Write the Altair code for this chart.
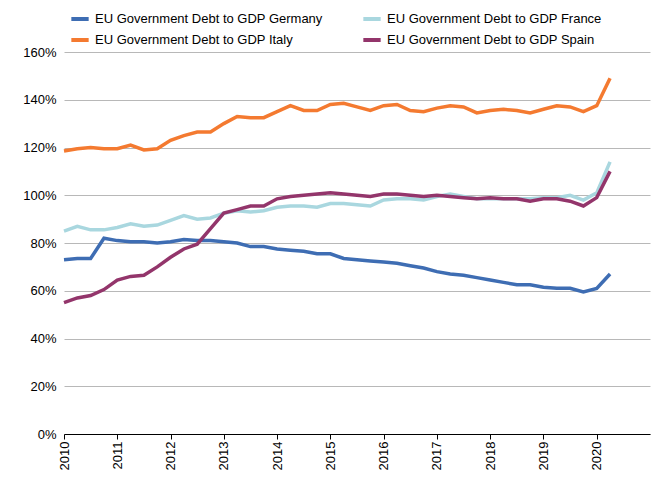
import altair as alt
import pandas as pd

SERIES = [
    "EU Government Debt to GDP Germany",
    "EU Government Debt to GDP Italy",
    "EU Government Debt to GDP France",
    "EU Government Debt to GDP Spain",
]
COLORS = ["#3e6db3", "#f47a30", "#a9d7df", "#93356b"]

germany = [73, 73.5, 73.5, 82, 81, 80.5, 80.5, 80, 80.5, 81.5, 81, 81,
           80.5, 80, 78.5, 78.5, 77.5, 77, 76.5, 75.5, 75.5, 73.5, 73, 72.5,
           72, 71.5, 70.5, 69.5, 68, 67, 66.5, 65.5, 64.5, 63.5, 62.5, 62.5,
           61.5, 61, 61, 59.5, 61, 67]
france = [85, 87, 85.5, 85.5, 86.5, 88, 87, 87.5, 89.5, 91.5, 90, 90.5,
          92.5, 93.5, 93, 93.5, 95, 95.5, 95.5, 95, 96.5, 96.5, 96, 95.5,
          98, 98.5, 98.5, 98, 99.5, 100.5, 99.5, 98.5, 98.5, 98.5, 98.5, 98.5,
          99, 99, 100, 98, 101, 114]
italy = [118.5, 119.5, 120, 119.5, 119.5, 121, 119, 119.5, 123, 125, 126.5, 126.5,
         130, 133, 132.5, 132.5, 135, 137.5, 135.5, 135.5, 138, 138.5, 137, 135.5,
         137.5, 138, 135.5, 135, 136.5, 137.5, 137, 134.5, 135.5, 136, 135.5, 134.5,
         136, 137.5, 137, 135, 137.5, 149]
spain = [55, 57, 58, 60.5, 64.5, 66, 66.5, 70, 74, 77.5, 79.5, 86,
         92.5, 94, 95.5, 95.5, 98.5, 99.5, 100, 100.5, 101, 100.5, 100, 99.5,
         100.5, 100.5, 100, 99.5, 100, 99.5, 99, 98.5, 99, 98.5, 98.5, 97.5,
         98.5, 98.5, 97.5, 95.5, 99, 110]

quarters = [2010 + i / 4 for i in range(len(germany))]

rows = []
for name, values in zip(SERIES, [germany, italy, france, spain]):
    for q, v in zip(quarters, values):
        rows.append({"Quarter": q, "Series": name, "Debt": v / 100})
df = pd.DataFrame(rows)

chart = (
    alt.Chart(df)
    .mark_line(strokeWidth=3.5)
    .encode(
        x=alt.X(
            "Quarter:Q",
            title=None,
            scale=alt.Scale(domain=[2010, 2021], nice=False),
            axis=alt.Axis(
                values=list(range(2010, 2021)),
                format="d",
                labelAngle=-90,
                labelAlign="right",
                labelBaseline="middle",
                grid=False,
                domainColor="#000000",
                tickColor="#000000",
                labelColor="#000000",
                labelFontSize=13,
            ),
        ),
        y=alt.Y(
            "Debt:Q",
            title=None,
            scale=alt.Scale(domain=[0, 1.6], nice=False),
            axis=alt.Axis(
                format=".0%",
                values=[0, 0.2, 0.4, 0.6, 0.8, 1.0, 1.2, 1.4, 1.6],
                domain=False,
                ticks=False,
                gridColor="#b8b8b8",
                labelColor="#000000",
                labelFontSize=13,
                labelPadding=8,
            ),
        ),
        color=alt.Color(
            "Series:N",
            sort=SERIES,
            scale=alt.Scale(domain=SERIES, range=COLORS),
            legend=alt.Legend(
                title=None,
                orient="none",
                legendX=5,
                legendY=-44,
                columns=2,
                columnPadding=32,
                rowPadding=2,
                symbolType="stroke",
                symbolStrokeWidth=4,
                symbolSize=300,
                labelFontSize=13,
                labelColor="#000000",
                labelLimit=300,
            ),
        ),
    )
    .properties(
        width=586,
        height=382,
        padding={"top": 0, "left": 14, "right": 5, "bottom": 5},
    )
    .configure(font="Liberation Sans")
    .configure_view(stroke=None)
    .configure_axis(labelFont="Liberation Sans")
)

chart.save("out.html", embed_options={"renderer": "svg", "actions": False})
